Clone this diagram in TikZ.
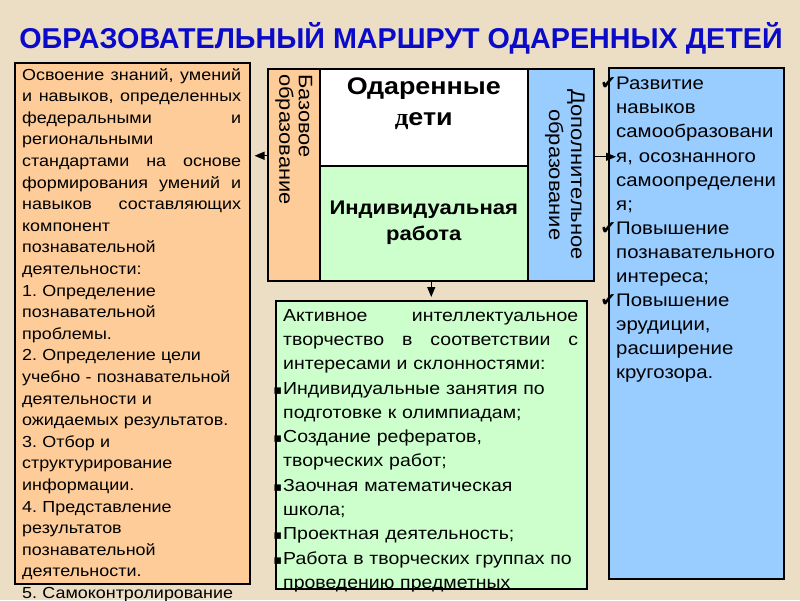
\documentclass[tikz,border=0pt]{standalone}
\usepackage{fontspec}
\setmainfont[FakeStretch=1.12]{Liberation Sans}
\newfontfamily\titlefont{Liberation Sans}
\newfontfamily\symfont{DejaVu Sans}
\newfontfamily\serfont[FakeStretch=1.12]{Liberation Serif}
\usetikzlibrary{arrows.meta,positioning}

\definecolor{paper}{RGB}{235,222,196}
\definecolor{orangebox}{RGB}{253,204,153}
\definecolor{greenbox}{RGB}{204,255,204}
\definecolor{bluebox}{RGB}{153,204,255}
\definecolor{titleblue}{RGB}{10,10,200}

% justified line, check mark and square bullet
\newcommand{\jl}[2][219pt]{\leavevmode\makebox[#1][s]{\spaceskip=0pt\xspaceskip=0pt\relax #2}}
\newcommand{\chk}{\leavevmode\llap{{\symfont\bfseries\fontsize{19}{19}\selectfont\char"2714}}}
\newcommand{\bul}{\leavevmode\llap{{\symfont\fontsize{13}{13}\selectfont\char"25AA}\hspace{1pt}}}

\tikzset{
  box/.style={draw=black, line width=1.5pt, inner sep=0pt, anchor=north west},
  txt/.style={anchor=north west, align=left, inner sep=0pt},
  link/.style={line width=1.3pt, -{Triangle[length=10pt, width=8pt]}},
}

\begin{document}
\begin{tikzpicture}[x=1pt,y=-1pt]
 \fill[paper] (0,0) rectangle (800,600);
 \useasboundingbox (0,0) rectangle (800,600);

 \node[anchor=base, text=titleblue, font=\titlefont\bfseries\fontsize{28.7}{29}\selectfont] (title) at (401,48)
   {ОБРАЗОВАТЕЛЬНЫЙ МАРШРУТ ОДАРЕННЫХ ДЕТЕЙ};

 % boxes
 \node[box, fill=orangebox, minimum width=235pt, minimum height=521pt] (know) at (14,62) {};
 \node[box, fill=orangebox, minimum width=52pt, minimum height=212pt] (base) at (267,68) {};
 \node[box, fill=white, minimum width=208pt, minimum height=97pt] (gifted) at (319,68) {};
 \node[box, fill=greenbox, minimum width=208pt, minimum height=115pt, align=center,
   font=\bfseries\fontsize{19.7}{26}\selectfont] (indiv) at (319,165) {Индивидуальная\\работа};
 \node[box, fill=bluebox, minimum width=66pt, minimum height=212pt] (extra) at (527,68) {};
 \node[box, fill=bluebox, minimum width=175pt, minimum height=511pt] (goal) at (608,67) {};
 \node[box, fill=greenbox, minimum width=311pt, minimum height=288pt] (act) at (275,300) {};

 % texts
 \node[txt, below right=6pt and 8pt of know.north west, text width=219pt,
   font=\fontsize{16}{21.6}\selectfont\frenchspacing] (knowtxt) {%
   \jl{Освоение знаний, умений}\\
   \jl{и навыков, определенных}\\
   \jl{федеральными и}\\
   региональными\\
   \jl{стандартами на основе}\\
   \jl{формирования умений и}\\
   \jl{навыков составляющих}\\
   компонент\\
   познавательной\\
   деятельности:\\
   1. Определение\\
   познавательной\\
   проблемы.\\
   2. Определение цели\\
   учебно - познавательной\\
   деятельности и\\
   ожидаемых результатов.\\
   3. Отбор и\\
   структурирование\\
   информации.\\
   4. Представление\\
   результатов\\
   познавательной\\
   деятельности.\\
   5. Самоконтролирование};

 \node[txt, rotate=-90, anchor=west, font=\fontsize{19.5}{19.5}\selectfont] (basetxt)
   at ([yshift=-6pt]base.north) {Базовое\\образование};
 \node[anchor=center, align=center, inner sep=0pt, font=\bfseries\fontsize{24}{31}\selectfont] (giftedtxt)
   at ([yshift=14pt]gifted.center) {Одаренные\\{\serfont д}ети};
 \node[rotate=-90, align=center, inner sep=0pt, font=\fontsize{19.6}{22}\selectfont] (extratxt)
   at ([xshift=4pt]extra.center) {Дополнительное\\образование};

 \node[txt, below right=10pt and 8pt of goal.north west, text width=167pt,
   font=\fontsize{18.2}{24.1}\selectfont] (goaltxt) {%
   \chk Развитие\\
   навыков\\
   самообразовани\\
   я, осознанного\\
   самоопределени\\
   я;\\
   \chk Повышение\\
   познавательного\\
   интереса;\\
   \chk Повышение\\
   эрудиции,\\
   расширение\\
   кругозора.};

 \node[txt, below right=9pt and 8pt of act.north west, text width=295pt,
   font=\fontsize{17.4}{24.3}\selectfont] (acttxt) {%
   \jl[295pt]{Активное интеллектуальное}\\
   \jl[295pt]{творчество в соответствии с}\\
   интересами и склонностями:\\
   \bul Индивидуальные занятия по\\
   подготовке к олимпиадам;\\
   \bul Создание рефератов,\\
   творческих работ;\\
   \bul Заочная математическая\\
   школа;\\
   \bul Проектная деятельность;\\
   \bul Работа в творческих группах по\\
   проведению предметных};
 \draw[line width=1.5pt] (act.south west) -- (act.south east);

 % links
 \coordinate (baseout) at ([yshift=19pt]base.west);
 \coordinate (extraout) at ([yshift=18pt]extra.east);
 \draw[link, shorten >=4pt] (baseout) -- (baseout -| know.east);
 \draw[link, shorten >=-8pt] (extraout) -- (extraout -| goal.west);
 \draw[link, shorten >=3pt] (act.north |- indiv.south) -- (act.north);
\end{tikzpicture}
\end{document}
